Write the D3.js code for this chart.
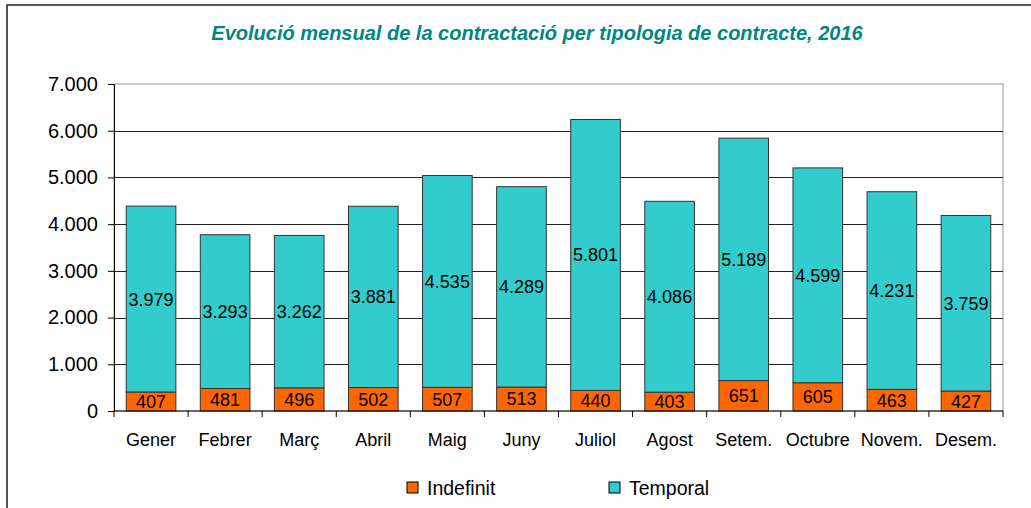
<!DOCTYPE html>
<html>
<head>
<meta charset="utf-8">
<script src="https://cdn.jsdelivr.net/npm/d3@7"></script>
<style>
  body { margin: 0; background: #fff; }
  svg { display: block; font-family: "Liberation Sans", Arial, sans-serif; }
</style>
</head>
<body>
<svg width="1031" height="508"></svg>
<script>
// data
const months = ["Gener", "Febrer", "Març", "Abril", "Maig", "Juny", "Juliol", "Agost", "Setem.", "Octubre", "Novem.", "Desem."];
const indefinit = [407, 481, 496, 502, 507, 513, 440, 403, 651, 605, 463, 427];
const temporal = [3979, 3293, 3262, 3881, 4535, 4289, 5801, 4086, 5189, 4599, 4231, 3759];
const seriesNames = ["Indefinit", "Temporal"];
const seriesColors = ["#FF6600", "#33CCCC"];
const yTicks = [0, 1000, 2000, 3000, 4000, 5000, 6000, 7000];

const svg = d3.select("svg");
const margin = { left: 114, right: 1003, top: 84, bottom: 411 };

const locale = d3.formatLocale({ decimal: ",", thousands: ".", grouping: [3], currency: ["", "€"] });
const fmt = locale.format(",d");

// outer frame
svg.append("rect")
  .attr("x", 7).attr("y", 5)
  .attr("width", 1040).attr("height", 520)
  .attr("fill", "none").attr("stroke", "#222").attr("stroke-width", 1.5);

svg.append("text")
  .attr("x", 537).attr("y", 40)
  .attr("text-anchor", "middle")
  .style("font-size", "20px").style("font-weight", "bold").style("font-style", "italic")
  .attr("fill", "#008780")
  .text("Evolució mensual de la contractació per tipologia de contracte, 2016");

const x = d3.scaleBand().domain(months).range([margin.left, margin.right]).paddingInner(0.33).paddingOuter(0.165);
const y = d3.scaleLinear().domain([0, 7000]).range([margin.bottom, margin.top]);

// plot border + grid
svg.append("rect")
  .attr("x", margin.left).attr("y", margin.top)
  .attr("width", margin.right - margin.left).attr("height", margin.bottom - margin.top)
  .attr("fill", "none").attr("stroke", "#999");

svg.append("g").selectAll("line")
  .data(yTicks.slice(1, -1))
  .join("line")
  .attr("x1", margin.left).attr("x2", margin.right)
  .attr("y1", d => Math.round(y(d)) + 0.5).attr("y2", d => Math.round(y(d)) + 0.5)
  .attr("stroke", "#222");

// stacked bars
const rows = months.map((m, i) => ({ month: m, Indefinit: indefinit[i], Temporal: temporal[i] }));
const stack = d3.stack().keys(seriesNames)(rows);

const layers = svg.append("g").selectAll("g")
  .data(stack)
  .join("g")
  .attr("fill", (d, i) => seriesColors[i]);

layers.selectAll("rect")
  .data(d => d)
  .join("rect")
  .attr("x", d => x(d.data.month))
  .attr("width", x.bandwidth())
  .attr("y", d => y(d[1]))
  .attr("height", d => y(d[0]) - y(d[1]))
  .attr("stroke", "#333").attr("stroke-width", 1);

layers.selectAll("text")
  .data(d => d.map(v => ({ v, key: d.key })))
  .join("text")
  .attr("x", d => x(d.v.data.month) + x.bandwidth() / 2)
  .attr("y", d => (y(d.v[0]) + y(d.v[1])) / 2)
  .attr("dy", "0.36em")
  .attr("text-anchor", "middle")
  .attr("fill", "#000")
  .style("font-size", "18px")
  .text(d => fmt(d.v.data[d.key]));

// y axis
const yAxis = svg.append("g")
  .attr("transform", `translate(${margin.left},0)`)
  .call(d3.axisLeft(y).tickValues(yTicks).tickFormat(fmt).tickSize(6).tickPadding(10));
yAxis.select(".domain").attr("stroke", "#000");
yAxis.selectAll("text").style("font-size", "20px").attr("fill", "#000");

// x axis with ticks at band edges
const xAxis = svg.append("g").attr("transform", `translate(0,${margin.bottom})`);
xAxis.append("line")
  .attr("x1", margin.left).attr("x2", margin.right)
  .attr("stroke", "#000");
const step = x.step();
xAxis.selectAll("line.tick")
  .data(d3.range(months.length + 1))
  .join("line")
  .attr("class", "tick")
  .attr("x1", i => margin.left + i * step).attr("x2", i => margin.left + i * step)
  .attr("y1", 0).attr("y2", 6)
  .attr("stroke", "#000");
xAxis.selectAll("text")
  .data(months)
  .join("text")
  .attr("x", d => x(d) + x.bandwidth() / 2)
  .attr("y", 35)
  .attr("text-anchor", "middle")
  .style("font-size", "18px")
  .text(d => d);

// legend
const legendX = [407, 609];
const legend = svg.append("g").selectAll("g")
  .data(seriesNames)
  .join("g")
  .attr("transform", (d, i) => `translate(${legendX[i]},482)`);
legend.append("rect")
  .attr("width", 11).attr("height", 11)
  .attr("fill", (d, i) => seriesColors[i])
  .attr("stroke", "#000");
legend.append("text")
  .attr("x", 20).attr("y", 6).attr("dy", "0.36em")
  .style("font-size", "19.5px")
  .text(d => d);
</script>
</body>
</html>
